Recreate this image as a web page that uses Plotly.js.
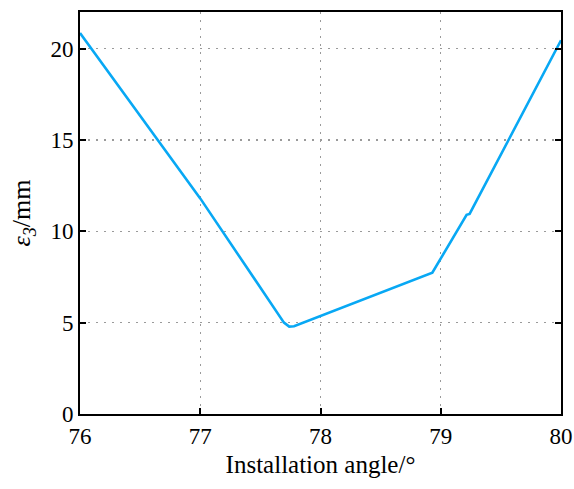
<!DOCTYPE html>
<html>
<head>
<meta charset="utf-8">
<script src="https://cdn.plot.ly/plotly-3.0.1.min.js"></script>
<style>html,body{margin:0;padding:0;background:#fff;}#chart{width:574px;height:489px;}</style>
</head>
<body>
<div id="chart"></div>
<script>
const angle = [76.0, 77.0, 77.696, 77.74, 77.78, 78.93, 79.215, 79.24, 80.0];
const eps3 = [20.85, 11.8, 5.0, 4.78, 4.8, 7.73, 10.9, 10.95, 20.45];
const xTicks = [76, 77, 78, 79, 80];
const yTicks = [0, 5, 10, 15, 20];

const font = {family: 'Liberation Serif', size: 21, color: '#000'};

Plotly.newPlot('chart', [{
  x: angle, y: eps3, type: 'scatter', mode: 'lines',
  line: {color: '#08A8F4', width: 2.6}
}], {
  width: 574, height: 489,
  margin: {l: 80, r: 13, t: 12, b: 75},
  paper_bgcolor: '#fff', plot_bgcolor: '#fff',
  showlegend: false,
  font: font,
  xaxis: {
    range: [76, 80], tickvals: xTicks, ticktext: xTicks.map(String),
    ticks: 'inside', ticklen: 6, tickwidth: 2, tickcolor: '#000',
    showline: true, linewidth: 2, linecolor: '#000', mirror: true,
    showgrid: true, gridcolor: '#9a9a9a', griddash: '2px,6px', gridwidth: 1.2,
    zeroline: false, tickfont: {family: 'Liberation Serif', size: 23},
    title: {text: 'Installation angle/°', font: {family: 'Liberation Serif', size: 25}, standoff: 8}
  },
  yaxis: {
    range: [0, 22], tickvals: yTicks, ticktext: yTicks.map(String),
    ticks: 'inside', ticklen: 6, tickwidth: 2, tickcolor: '#000',
    showline: true, linewidth: 2, linecolor: '#000', mirror: 'ticks',
    showgrid: true, gridcolor: '#9a9a9a', griddash: '2px,6px', gridwidth: 1.2,
    zeroline: false, tickfont: {family: 'Liberation Serif', size: 23},
    title: {text: '<i>ε</i><sub><i>3</i></sub>/mm', font: {family: 'Liberation Serif', size: 26}, standoff: 12}
  }
}, {displayModeBar: false, staticPlot: true});
</script>
</body>
</html>
